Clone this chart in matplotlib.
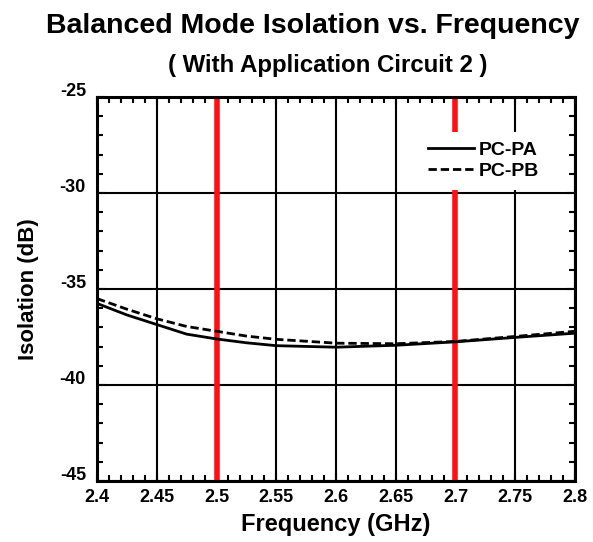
import matplotlib
matplotlib.use("Agg")
import matplotlib.pyplot as plt
import matplotlib.transforms as mtransforms
from matplotlib.ticker import MultipleLocator

plt.rcParams["font.family"] = ["Liberation Sans", "DejaVu Sans"]
plt.rcParams["font.weight"] = "bold"
plt.rcParams["axes.unicode_minus"] = False

freq = [2.4, 2.425, 2.45, 2.475, 2.5, 2.525, 2.55, 2.6, 2.65, 2.7, 2.75, 2.8]
pc_pa = [-35.75, -36.35, -36.85, -37.35, -37.6, -37.8, -37.95, -38.03, -37.93, -37.75, -37.52, -37.3]
pc_pb = [-35.5, -36.05, -36.55, -36.95, -37.2, -37.45, -37.62, -37.82, -37.85, -37.73, -37.47, -37.2]
band_edges = [2.5, 2.7]

fig = plt.figure(figsize=(5.93, 5.42), dpi=100)
ax = fig.add_axes([0.1636, 0.1125, 0.8060, 0.7085])

ax.plot(freq, pc_pa, color="black", lw=2.0, label="PC-PA", zorder=4)
ax.plot(freq, pc_pb, color="black", lw=2.0, ls=(0, (3, 1.4)), label="PC-PB", zorder=4)
for f in band_edges:
    ax.axvline(f, color="#ff1010", lw=4.0, zorder=3)

ax.set_xlim(2.4, 2.8)
ax.set_ylim(-45, -25)
ax.xaxis.set_major_locator(MultipleLocator(0.05))
ax.xaxis.set_minor_locator(MultipleLocator(0.01))
ax.yaxis.set_major_locator(MultipleLocator(5))
ax.yaxis.set_minor_locator(MultipleLocator(1))
ax.set_xticklabels([f"{v:g}" for v in ax.get_xticks()])

ax.grid(True, which="major", color="black", lw=1.5, zorder=1)
ax.set_axisbelow(True)
ax.tick_params(which="both", direction="in", top=True, right=True, width=1.5,
               labelsize=13)
ax.tick_params(axis="x", which="major", pad=6)
ax.tick_params(axis="y", which="major", pad=8)
ax.tick_params(which="major", length=6)
ax.tick_params(which="minor", length=4)
for s in ax.spines.values():
    s.set_linewidth(2.2)
    s.set_zorder(5)

# y labels sit a bit above their ticks in the original
offset = mtransforms.ScaledTranslation(0, 8 / 100, fig.dpi_scale_trans)
for lab in ax.get_yticklabels():
    lab.set_transform(lab.get_transform() + offset)

ax.set_xlabel("Frequency (GHz)", fontsize=17, fontweight="bold", labelpad=5)
ax.set_ylabel("Isolation (dB)", fontsize=16, fontweight="bold", labelpad=15)

fig.text(0.527, 0.9397, "Balanced Mode Isolation vs. Frequency", ha="center", va="baseline",
         fontsize=20.5, fontweight="bold")
fig.text(0.552, 0.867, "( With Application Circuit 2 )", ha="center", va="baseline",
         fontsize=17.3, fontweight="bold")

leg = ax.legend(loc="upper right", bbox_to_anchor=(0.946, 0.909), frameon=True,
                facecolor="white", edgecolor="none", framealpha=1, fancybox=False,
                fontsize=14, handlelength=2.4, handletextpad=0.25, labelspacing=0.15,
                borderpad=0.5, borderaxespad=0)
leg.set_zorder(6)
for t in leg.get_texts():
    t.set_fontweight("bold")

fig.savefig("out.png", dpi=100)
